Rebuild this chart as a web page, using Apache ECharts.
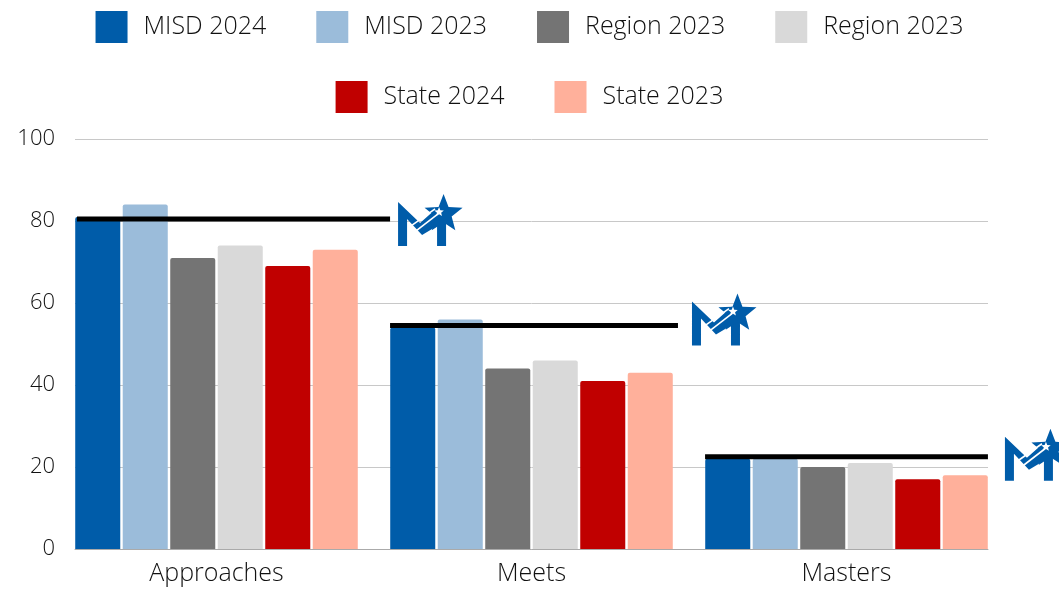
<!DOCTYPE html>
<html>
<head>
<meta charset="utf-8">
<script src="https://cdn.jsdelivr.net/npm/echarts@6/dist/echarts.min.js"></script>
<style>
  html, body { margin: 0; padding: 0; background: #fff; }
  #chart { width: 1059px; height: 592px; }
</style>
</head>
<body>
<div id="chart"></div>
<script>
// categories and values
var categories = ['Approaches', 'Meets', 'Masters'];
var seriesNames = ['MISD 2024', 'MISD 2023', 'Region 2023', 'Region 2023 ', 'State 2024', 'State 2023'];
var misd2024 = [81, 54, 22];
var misd2023 = [84, 56, 22];
var regionDark = [71, 44, 20];
var regionLight = [74, 46, 21];
var state2024 = [69, 41, 17];
var state2023 = [73, 43, 18];
var benchmark = [80.5, 54.5, 22.5];
var yTicks = [0, 20, 40, 60, 80, 100];

var colors = ['#005ca9', '#9bbcda', '#747474', '#d9d9d9', '#c00000', '#ffb09b'];
var fontFamily = '"Open Sans", Lato, sans-serif';

// line extent in band units relative to band centre, logo offsets in px
var lineSpans = [[-0.443, 0.551], [-0.449, 0.465], [-0.449, 0.449]];
var logoOffsets = [[8, -24], [14, -31], [17, -27]];

function starPoints(cx, cy, R, r) {
  var pts = [];
  for (var i = 0; i < 10; i++) {
    var rad = i % 2 === 0 ? R : r;
    var a = -Math.PI / 2 + i * Math.PI / 5;
    pts.push([cx + rad * Math.cos(a), cy + rad * Math.sin(a)]);
  }
  return pts;
}

// the district "M + star" mark, local coords in px
function logo(x, y) {
  var blue = '#005ca9';
  return {
    type: 'group',
    x: x,
    y: y,
    children: [
      { type: 'polygon', shape: { points: [[0, 51], [0, 7], [22, 28], [40, 12], [48, 20], [48, 51], [39, 51], [39, 31], [24, 40], [9, 24], [9, 51]] }, style: { fill: blue } },
      { type: 'polygon', shape: { points: starPoints(45.5, 19, 20, 8.5) }, style: { fill: blue } },
      { type: 'line', shape: { x1: 13, y1: 31, x2: 37, y2: 14 }, style: { stroke: '#fff', lineWidth: 1.6 } },
      { type: 'line', shape: { x1: 18, y1: 36, x2: 40, y2: 19 }, style: { stroke: '#fff', lineWidth: 1.6 } },
      { type: 'polygon', shape: { points: starPoints(41, 17, 5, 2.2) }, style: { fill: '#fff' } }
    ]
  };
}

var chart = echarts.init(document.getElementById('chart'));

var allData = [misd2024, misd2023, regionDark, regionLight, state2024, state2023];
var barSeries = allData.map(function (d, i) {
  return {
    name: seriesNames[i],
    type: 'bar',
    xAxisIndex: 1,
    yAxisIndex: 1,
    barCategoryGap: '10.3%',
    barGap: '5.5%',
    itemStyle: { color: colors[i], borderRadius: [2, 2, 0, 0] },
    data: d
  };
});

var legendText = { fontSize: 25, fontWeight: 300, color: '#111', fontFamily: fontFamily, padding: [0, 0, 0, 11] };

chart.setOption({
  animation: false,
  color: colors,
  legend: [
    {
      data: seriesNames.slice(0, 4),
      left: 'center',
      top: 6,
      itemWidth: 32,
      itemHeight: 32,
      itemGap: 50,
      icon: 'rect',
      textStyle: legendText,
      formatter: function (n) { return n.trim(); }
    },
    {
      data: seriesNames.slice(4),
      left: 'center',
      top: 76,
      itemWidth: 32,
      itemHeight: 32,
      itemGap: 50,
      icon: 'rect',
      textStyle: legendText
    }
  ],
  grid: [
    { left: 75, right: 71, top: 139, bottom: 43 },
    { left: 59, right: 55, top: 139, bottom: 43 }
  ],
  xAxis: [
    {
      type: 'category',
      gridIndex: 0,
      data: categories,
      axisLine: { lineStyle: { color: '#aaa' } },
      axisTick: { show: false },
      axisLabel: { show: false }
    },
    {
      type: 'category',
      gridIndex: 1,
      data: categories,
      axisLine: { show: false },
      axisTick: { show: false },
      axisLabel: { fontSize: 25, fontWeight: 300, color: '#111', fontFamily: fontFamily, margin: 12 }
    }
  ],
  yAxis: [
    {
      type: 'value',
      gridIndex: 0,
      min: yTicks[0],
      max: yTicks[yTicks.length - 1],
      interval: yTicks[1] - yTicks[0],
      axisLine: { show: false },
      axisTick: { show: false },
      axisLabel: { fontSize: 22, fontWeight: 300, color: '#111', fontFamily: fontFamily, margin: 20 },
      splitLine: { lineStyle: { color: '#c8c8c8' } }
    },
    {
      type: 'value',
      gridIndex: 1,
      min: yTicks[0],
      max: yTicks[yTicks.length - 1],
      interval: yTicks[1] - yTicks[0],
      axisLine: { show: false },
      axisTick: { show: false },
      axisLabel: { show: false },
      splitLine: { show: false }
    }
  ],
  series: barSeries.concat([{
    type: 'custom',
    name: 'benchmark',
    xAxisIndex: 1,
    yAxisIndex: 1,
    clip: false,
    z: 10,
    data: benchmark.map(function (v, i) { return [i, v]; }),
    renderItem: function (params, api) {
      var i = params.dataIndex;
      var p = api.coord([api.value(0), api.value(1)]);
      var band = api.size([1, 0])[0];
      var x1 = p[0] + lineSpans[i][0] * band;
      var x2 = p[0] + lineSpans[i][1] * band;
      return {
        type: 'group',
        children: [
          { type: 'line', shape: { x1: x1, y1: p[1], x2: x2, y2: p[1] }, style: { stroke: '#000', lineWidth: 5 } },
          logo(x2 + logoOffsets[i][0], p[1] + logoOffsets[i][1])
        ]
      };
    }
  }])
});
</script>
</body>
</html>
